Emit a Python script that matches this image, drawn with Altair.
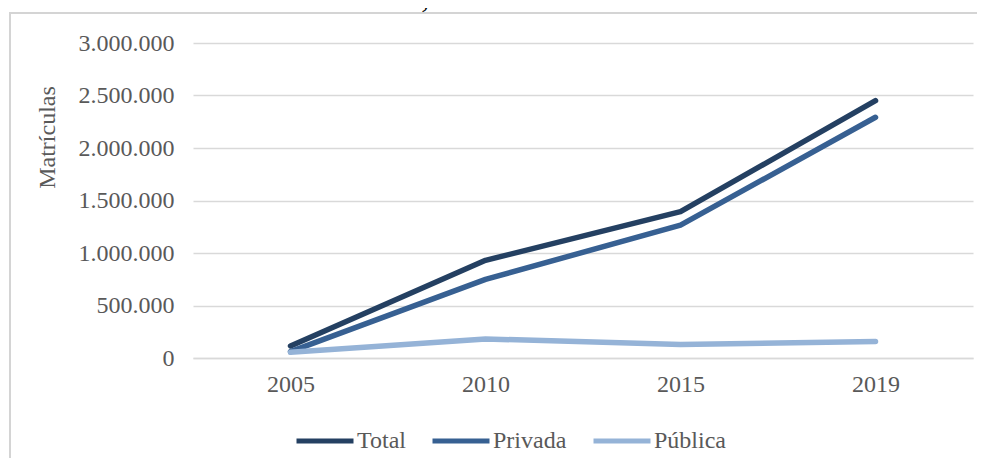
import altair as alt
import pandas as pd

years = ["2005", "2010", "2015", "2019"]
total = [114642, 930179, 1393752, 2450264]
privada = [60127, 748577, 1265359, 2292608]
publica = [54515, 181602, 128393, 157656]
series = ["Total", "Privada", "Pública"]
colors = ["#244062", "#376092", "#95B3D7"]
title_text = "Brasil, entre 2005 e 2019"
y_title = "Matrículas"

rows = []
for name, vals in zip(series, [total, privada, publica]):
    for i, (yr, v) in enumerate(zip(years, vals)):
        rows.append({"Ano": yr, "Série": name, "Matrículas": v, "ord": series.index(name)})
df = pd.DataFrame(rows)

FONT = "Liberation Serif"

lines = alt.Chart(df).mark_line(strokeWidth=5.5, strokeCap="round", strokeJoin="round").encode(
    x=alt.X("Ano:N", sort=years, scale=alt.Scale(type="point", padding=0.5),
            axis=alt.Axis(title=None, labelAngle=0, labelFontSize=24, labelFont=FONT,
                          labelColor="#595959", ticks=False, domain=True, domainColor="#D9D9D9",
                          domainWidth=1.5, labelPadding=14, grid=False)),
    y=alt.Y("Matrículas:Q", scale=alt.Scale(domain=[0, 3000000], nice=False),
            axis=alt.Axis(title=y_title, values=[0, 500000, 1000000, 1500000, 2000000, 2500000, 3000000],
                          labelExpr="replace(format(datum.value, ',d'), regexp(',', 'g'), '.')",
                          labelFontSize=24, labelFont=FONT, labelColor="#595959", labelPadding=19,
                          ticks=False, domain=False, gridColor="#D9D9D9", gridWidth=1.5,
                          titleFont=FONT, titleFontSize=24, titleFontWeight="normal",
                          titleColor="#595959", titleX=-146, titleY=94, titleBaseline="middle",
                          titleAngle=270)),
    color=alt.Color("Série:N", sort=series, scale=alt.Scale(domain=series, range=colors),
                    legend=alt.Legend(title=None, orient="none", direction="horizontal",
                                      legendX=101, legendY=367, symbolType="stroke",
                                      symbolSize=3249, symbolStrokeWidth=5, labelFontSize=24,
                                      labelFont=FONT, labelColor="#595959", labelOffset=1,
                                      columnPadding=16)),
    order=alt.Order("ord:Q"),
)

one = alt.Data(values=[{"a": 1}])

top_line = alt.Chart(one).mark_rule(stroke="#D4D4D4", strokeWidth=2).encode(
    x=alt.value(-184), x2=alt.value(900), y=alt.value(-30), y2=alt.value(-30))

left_line = alt.Chart(one).mark_rule(stroke="#D4D4D4", strokeWidth=2).encode(
    x=alt.value(-183), x2=alt.value(-183), y=alt.value(-31), y2=alt.value(500))

title = alt.Chart(one).mark_text(
    font=FONT, fontSize=32, color="#000000", align="center", baseline="alphabetic"
).encode(x=alt.value(313), y=alt.value(-36), text=alt.value(title_text))

chart = alt.layer(top_line, left_line, title, lines).properties(
    width=780, height=315,
    padding={"left": 185, "top": 35, "right": 4, "bottom": 100},
    autosize=alt.AutoSizeParams(type="none"),
).configure_view(stroke=None)

chart.save("out.html", embed_options={"renderer": "svg", "actions": False})
